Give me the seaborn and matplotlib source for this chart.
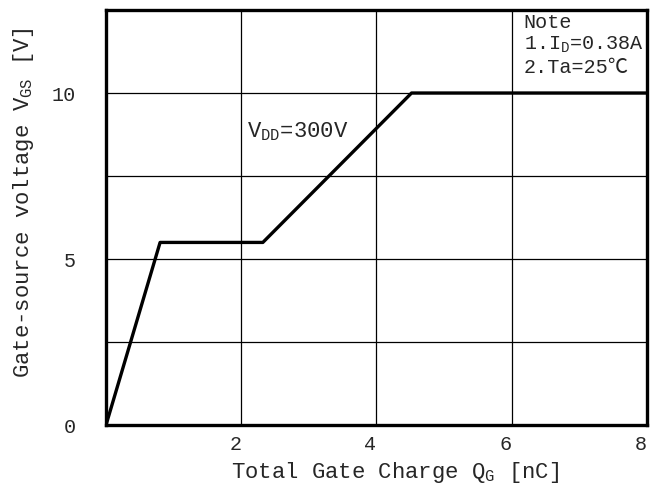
import matplotlib
matplotlib.use("Agg")
import matplotlib.pyplot as plt
import matplotlib.transforms as mtransforms
import seaborn as sns
import pandas as pd

# gate charge curve
qg_nc = [0.0, 0.8, 2.32, 4.52, 8.0]
vgs_v = [0.0, 5.5, 5.5, 10.0, 10.0]

x_ticks = [2, 4, 6, 8]
y_ticks = [0, 5, 10]

sns.set_style("white")
plt.rcParams["font.family"] = ["Liberation Mono", "DejaVu Sans Mono"]
plt.rcParams["mathtext.fontset"] = "custom"
plt.rcParams["mathtext.rm"] = "Liberation Mono"

df = pd.DataFrame({"qg": qg_nc, "vgs": vgs_v})

fig = plt.figure(figsize=(6.56, 4.88), dpi=100)
ax = fig.add_axes([0.1616, 0.129, 0.8244, 0.8505])

sns.lineplot(data=df, x="qg", y="vgs", ax=ax, color="black", linewidth=2.4, sort=False)

ax.set_xlim(0, 8)
ax.set_ylim(0, 12.5)
ax.set_xticks([0, 2, 4, 6, 8])
ax.set_xticklabels([""] + [str(t) for t in x_ticks])
ax.set_yticks([0, 2.5, 5, 7.5, 10, 12.5])
ax.set_yticklabels(["0", "", "5", "", "10", ""])
ax.grid(True, color="black", linewidth=0.9)
ax.tick_params(axis="both", length=0, labelsize=14.5)
ax.tick_params(axis="y", pad=22)
ax.tick_params(axis="x", pad=7)
# labels in the reference sit a little left of their grid lines
shift = mtransforms.ScaledTranslation(-6 / 100, 0, fig.dpi_scale_trans)
for lab in ax.get_xticklabels():
    lab.set_transform(lab.get_transform() + shift)
for s in ax.spines.values():
    s.set_color("black")
    s.set_linewidth(2.4)

ax.set_xlabel(r"Total Gate Charge Q$_\mathregular{G}$ [nC]", fontsize=16)
ax.set_ylabel(r"Gate-source voltage V$_\mathregular{GS}$ [V]", fontsize=16)
ax.xaxis.set_label_coords(0.535, -0.085)
ax.yaxis.set_label_coords(-0.13, 0.535)

ax.text(2.08, 8.83, r"V$_\mathregular{DD}$=300V", fontsize=16, ha="left", va="center")
ax.text(6.18, 12.42, "Note\n" + r"1.I$_\mathregular{D}$=0.38A" + "\n2.Ta=25\u2103",
        fontsize=14.5, ha="left", va="top", linespacing=1.2,
        family=["Liberation Mono", "Noto Sans CJK SC", "DejaVu Sans"])

fig.savefig("out.png", dpi=100)
